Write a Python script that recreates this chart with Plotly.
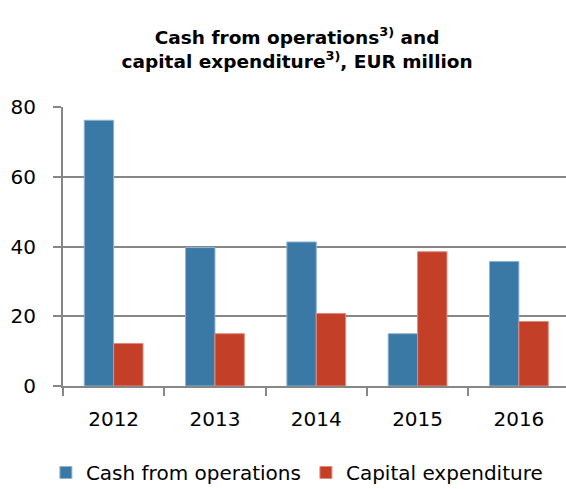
import plotly.graph_objects as go

years = ["2012", "2013", "2014", "2015", "2016"]
cash_from_operations = [76.2, 39.7, 41.3, 15.0, 35.7]
capital_expenditure = [12.2, 15.0, 20.8, 38.5, 18.5]
y_ticks = [0, 20, 40, 60, 80]

BLUE = "#3A78A6"
RED = "#C43F28"
GRID = "#878787"
FONT = "DejaVu Sans"

fig = go.Figure()
fig.add_trace(go.Bar(x=years, y=cash_from_operations, name="Cash from operations",
                     marker=dict(color=BLUE, line=dict(color="#8FB3D0", width=1))))
fig.add_trace(go.Bar(x=years, y=capital_expenditure, name="Capital expenditure",
                     marker=dict(color=RED, line=dict(color="#E08A7A", width=1))))

fig.update_layout(
    width=566, height=489,
    margin=dict(l=63, r=0, t=107, b=103, autoexpand=False),
    paper_bgcolor="white", plot_bgcolor="white",
    barmode="group", bargap=0.42, bargroupgap=0,
    font=dict(family=FONT, size=20, color="black"),
    title=dict(
        text="<b>Cash from operations<sup>3)</sup> and<br>capital expenditure<sup>3)</sup>, EUR million</b>",
        x=0.525, xanchor="center", xref="container",
        y=1 - 44/489, yanchor="middle", yref="container",
        font=dict(family=FONT, size=18.5, color="black"),
    ),
    showlegend=True,
    legend=dict(orientation="h", x=0.465, xanchor="center", y=-0.31, yanchor="middle",
                font=dict(family=FONT, size=20), traceorder="normal"),
)
fig.update_xaxes(
    type="category", range=[-0.5, 4.465], automargin=False,
    showline=True, linecolor=GRID, linewidth=2,
    ticks="outside", tickson="boundaries", ticklen=8, tickcolor=GRID, tickwidth=2,
    ticklabelstandoff=14, showgrid=False,
)
fig.update_yaxes(
    range=[0, 80], tickvals=y_ticks, automargin=False,
    showline=True, linecolor=GRID, linewidth=2,
    ticks="outside", ticklen=8, tickcolor=GRID, tickwidth=2,
    showgrid=True, gridcolor=GRID, gridwidth=2,
    ticklabelstandoff=13, zeroline=False,
)

fig.write_html("out.html", config={"displayModeBar": False},
               post_script="document.body.style.margin='0';")
